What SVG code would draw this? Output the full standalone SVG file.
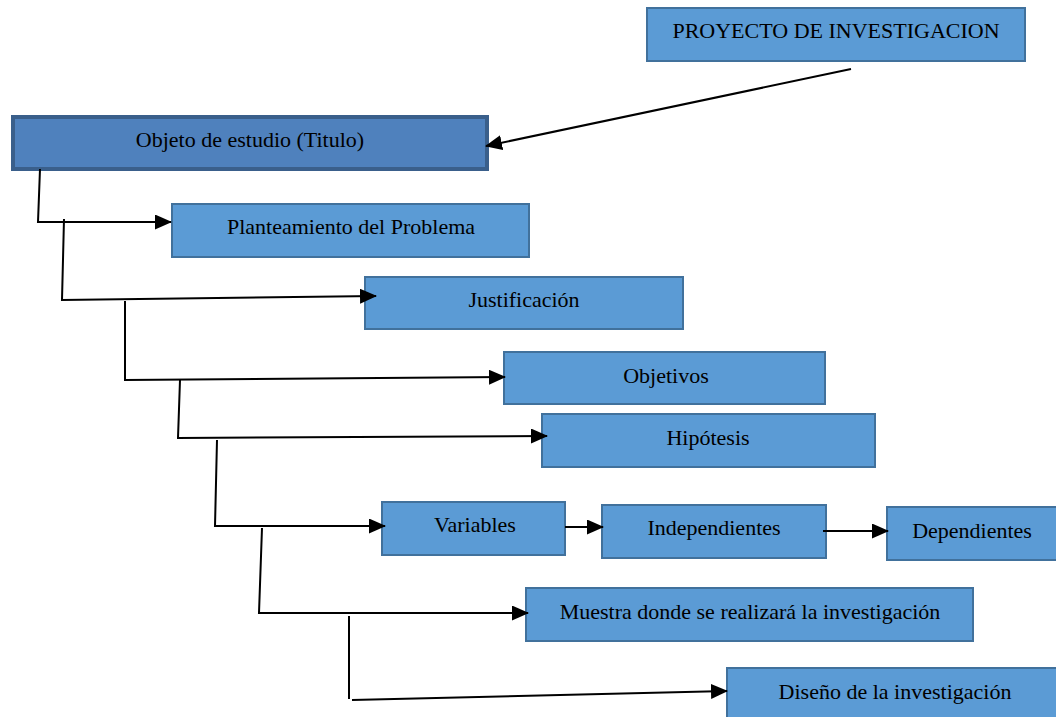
<svg xmlns="http://www.w3.org/2000/svg" width="1056" height="717" viewBox="0 0 1056 717">
<style>
.box{fill:#5b9bd5;stroke:#41719c;stroke-width:2}
.main{fill:#4f81bd;stroke:#3a5f8b;stroke-width:4}
.t{font-family:"Liberation Serif","Times New Roman",serif;font-size:22px;fill:#000;text-anchor:middle}
.c{fill:none;stroke:#000;stroke-width:2}
.a{marker-end:url(#ah)}
</style>
<defs>
<marker id="ah" markerUnits="userSpaceOnUse" markerWidth="17" markerHeight="15" refX="16" refY="7.5" orient="auto">
<path d="M0,0 L17,7.5 L0,15 Z" fill="#000"/>
</marker>
</defs>
<rect width="1056" height="717" fill="#fff"/>
<g id="n-proyecto"><rect class="box" x="647" y="8" width="378" height="53"/><text class="t" x="836" y="38">PROYECTO DE INVESTIGACION</text></g>
<g id="n-objeto"><rect class="main" x="13" y="117" width="474" height="52"/><text class="t" x="250" y="147">Objeto de estudio (Titulo)</text></g>
<g id="n-planteamiento"><rect class="box" x="172" y="204" width="357" height="53"/><text class="t" x="351" y="234">Planteamiento del Problema</text></g>
<g id="n-justificacion"><rect class="box" x="365" y="277" width="318" height="52"/><text class="t" x="524" y="307">Justificación</text></g>
<g id="n-objetivos"><rect class="box" x="504" y="352" width="321" height="52"/><text class="t" x="666" y="383">Objetivos</text></g>
<g id="n-hipotesis"><rect class="box" x="542" y="414" width="333" height="53"/><text class="t" x="708" y="445">Hipótesis</text></g>
<g id="n-variables"><rect class="box" x="382" y="502" width="183" height="53"/><text class="t" x="475" y="532">Variables</text></g>
<g id="n-independientes"><rect class="box" x="602" y="505" width="224" height="53"/><text class="t" x="714" y="535">Independientes</text></g>
<g id="n-dependientes"><rect class="box" x="887" y="507" width="172" height="53"/><text class="t" x="972" y="538">Dependientes</text></g>
<g id="n-muestra"><rect class="box" x="526" y="588" width="447" height="53"/><text class="t" x="750" y="619">Muestra donde se realizará la investigación</text></g>
<g id="n-diseno"><rect class="box" x="727" y="668" width="332" height="52"/><text class="t" x="895" y="699">Diseño de la investigación</text></g>
<g id="connectors">
<line class="c a" x1="851" y1="69" x2="486" y2="146"/>
<polyline class="c a" points="40,169 38,222 171,222"/>
<polyline class="c a" points="64,219 62,300 376,296"/>
<polyline class="c a" points="125,301 125,380 505,377"/>
<polyline class="c a" points="180,380 178,438 547,436"/>
<polyline class="c a" points="217,440 215,526 385,526"/>
<polyline class="c a" points="262,528 259,613 528,613"/>
<line class="c" x1="349" y1="616" x2="349" y2="699"/>
<line class="c a" x1="352" y1="700" x2="727" y2="691"/>
<line class="c a" x1="565" y1="527" x2="603" y2="527"/>
<line class="c a" x1="823" y1="531" x2="888" y2="531"/>
</g>
</svg>
